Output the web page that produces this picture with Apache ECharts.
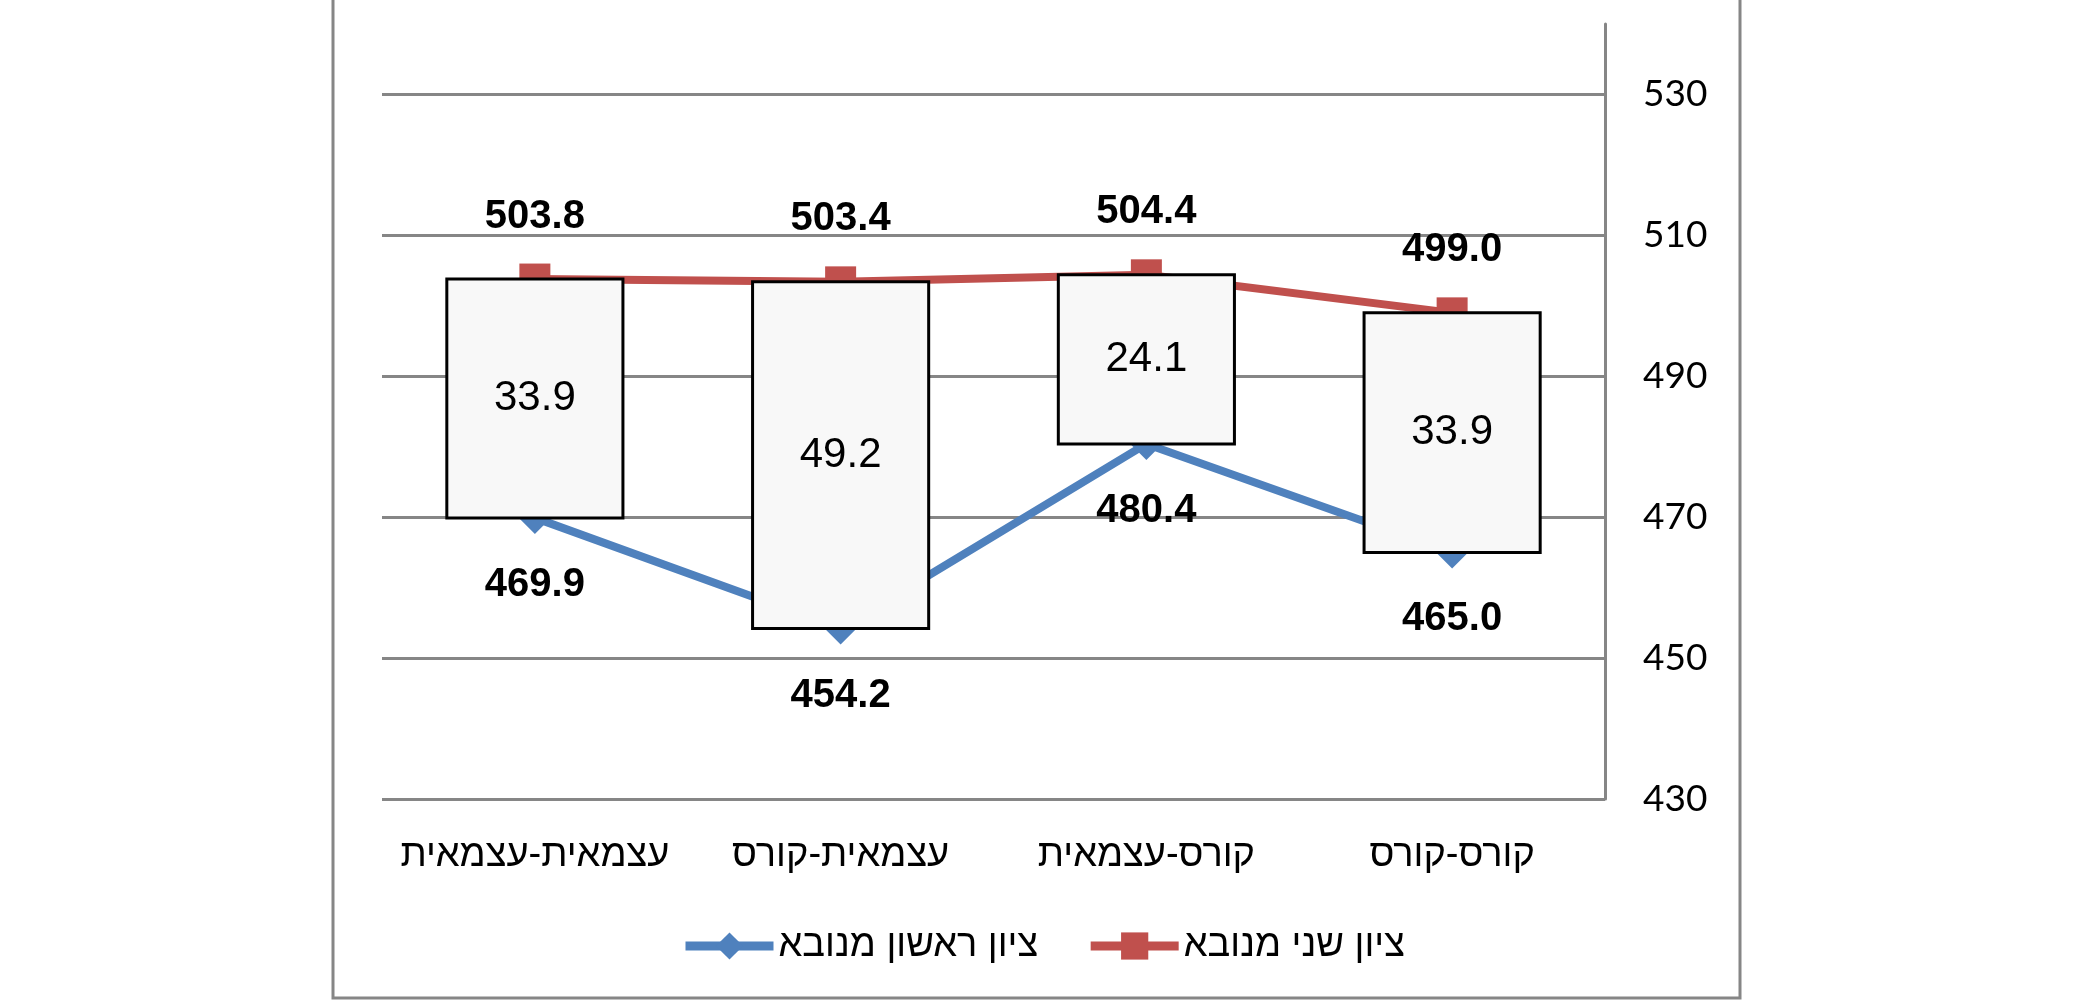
<!DOCTYPE html>
<html>
<head>
<meta charset="utf-8">
<script src="https://cdn.jsdelivr.net/npm/echarts@6/dist/echarts.min.js"></script>
<style>
  html, body { margin: 0; padding: 0; background: #fff; }
  #main { width: 2100px; height: 1000px; }
</style>
</head>
<body>
<div id="main"></div>
<script>
"use strict";
// right to left: first category is drawn on the right
var categories = ['קורס-קורס', 'קורס-עצמאית', 'עצמאית-קורס', 'עצמאית-עצמאית'];
var firstScore = [465.0, 480.4, 454.2, 469.9];   // ציון ראשון מנובא
var secondScore = [499.0, 504.4, 503.4, 503.8];  // ציון שני מנובא
var gapLabels = ['33.9', '24.1', '49.2', '33.9'];
var seriesNames = ['ציון ראשון מנובא', 'ציון שני מנובא'];

var hebFont = "'Liberation Sans', 'DejaVu Sans', sans-serif";
var gray = '#868686';

var myChart = echarts.init(document.getElementById('main'));

var boxData = categories.map(function (c, i) {
    return [i, firstScore[i], secondScore[i]];
});

myChart.setOption({
    animation: false,
    graphic: [{
        type: 'rect',
        shape: { x: 333, y: -10, width: 1407, height: 1008 },
        style: { fill: 'none', stroke: gray, lineWidth: 3 },
        silent: true
    }],
    grid: { left: 382, right: 495, top: 24, bottom: 201 },
    legend: {
        data: seriesNames,
        left: 676,
        top: 922,
        itemWidth: 88,
        itemHeight: 34,
        itemGap: 48,
        lineStyle: { width: 9 },
        textStyle: { fontFamily: hebFont, fontSize: 38, color: '#000' }
    },
    xAxis: {
        type: 'category',
        data: categories,
        inverse: true,
        axisLine: { show: false },
        axisTick: { show: false },
        axisLabel: { interval: 0, margin: 38, fontFamily: hebFont, fontSize: 38, color: '#000' }
    },
    yAxis: {
        type: 'value',
        position: 'right',
        min: 430,
        max: 540,
        interval: 20,
        axisLine: { show: true, lineStyle: { color: gray, width: 3 } },
        axisTick: { show: false },
        axisLabel: { margin: 38, showMaxLabel: false, fontFamily: 'Lato', fontSize: 37, color: '#000' },
        splitLine: { show: true, showMaxLine: false, lineStyle: { color: gray, width: 3 } }
    },
    series: [{
        name: seriesNames[0],
        type: 'line',
        data: firstScore,
        symbol: 'diamond',
        symbolSize: 32,
        lineStyle: { color: '#4F81BD', width: 8 },
        itemStyle: { color: '#4F81BD' },
        label: {
            show: true, position: 'bottom', distance: 31,
            fontFamily: hebFont, fontSize: 40, fontWeight: 'bold', color: '#000',
            formatter: function (p) { return p.value.toFixed(1); }
        },
        z: 2
    }, {
        name: seriesNames[1],
        type: 'line',
        data: secondScore,
        symbol: 'rect',
        symbolSize: 31,
        lineStyle: { color: '#C0504D', width: 8 },
        itemStyle: { color: '#C0504D' },
        label: {
            show: true, position: 'top', distance: 27,
            fontFamily: hebFont, fontSize: 40, fontWeight: 'bold', color: '#000',
            formatter: function (p) { return p.value.toFixed(1); }
        },
        z: 2
    }, {
        type: 'custom',
        data: boxData,
        encode: { x: 0, y: [1, 2] },
        z: 3,
        renderItem: function (params, api) {
            var i = api.value(0);
            var lo = api.coord([i, api.value(1)]);
            var hi = api.coord([i, api.value(2)]);
            var w = api.size([1, 0])[0] * 0.576;
            return {
                type: 'rect',
                shape: { x: lo[0] - w / 2, y: hi[1], width: w, height: lo[1] - hi[1] },
                style: { fill: '#f8f8f8', stroke: '#000', lineWidth: 3 },
                textContent: {
                    style: { text: gapLabels[params.dataIndex], fontFamily: hebFont, fontSize: 42, fill: '#000' }
                },
                textConfig: { position: 'inside' }
            };
        }
    }]
});
</script>
</body>
</html>
